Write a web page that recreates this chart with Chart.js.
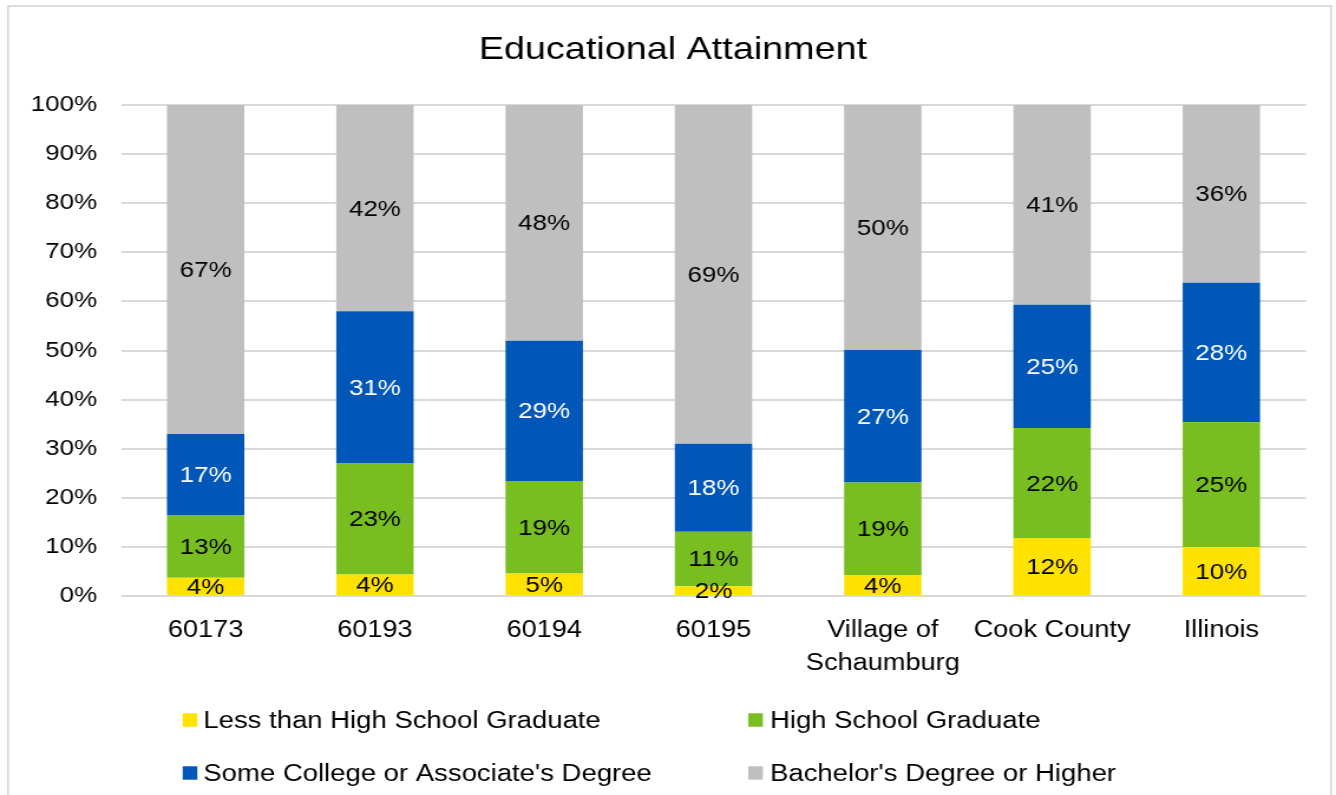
<!DOCTYPE html>
<html>
<head>
<meta charset="utf-8">
<title>Educational Attainment</title>
<script src="https://cdn.jsdelivr.net/npm/chart.js@4/dist/chart.umd.min.js"></script>
<style>
  html, body { margin: 0; padding: 0; background: #fff; overflow: hidden; }
  /* chart is laid out narrower and widened to the page width */
  #wrap {
    position: absolute; left: 0; top: 0;
    width: 1132px; height: 795px;
    transform: scaleX(1.1802); transform-origin: 0 0;
  }
</style>
</head>
<body>
<div id="wrap"><canvas id="attainment-chart"></canvas></div>
<script>
const categories = ["60173", "60193", "60194", "60195", ["Village of", "Schaumburg"], "Cook County", "Illinois"];

const lessThanHighSchool = [3.7, 4.4, 4.6, 2.0, 4.3, 11.8, 10.0];
const highSchoolGrad = [12.7, 22.6, 18.8, 11.1, 18.8, 22.4, 25.4];
const someCollege = [16.6, 31.0, 28.6, 17.9, 27.0, 25.1, 28.4];
const bachelorsOrHigher = [67.0, 42.0, 48.0, 69.0, 49.9, 40.7, 36.2];

const seriesNames = [
  "Less than High School Graduate",
  "High School Graduate",
  "Some College or Associate's Degree",
  "Bachelor's Degree or Higher",
];
const seriesColors = ["#FFE200", "#78BE21", "#0057B8", "#BEBFBE"];
const labelColors = ["#000", "#000", "#fff", "#000"];

const FONT = "'Liberation Sans', Arial, sans-serif";

// value labels in the middle of each segment
const segmentLabels = {
  id: "segmentLabels",
  afterDatasetsDraw(chart) {
    const ctx = chart.ctx;
    ctx.save();
    ctx.font = `22px ${FONT}`;
    ctx.textAlign = "center";
    ctx.textBaseline = "middle";
    chart.data.datasets.forEach((ds, i) => {
      chart.getDatasetMeta(i).data.forEach((bar, j) => {
        ctx.fillStyle = labelColors[i];
        ctx.fillText(Math.round(ds.data[j]) + "%", bar.x, (bar.y + bar.base) / 2 + 1.5);
      });
    });
    ctx.restore();
  },
};

// outer frame, title and the two-column legend under the axis
const frameAndLegend = {
  id: "frameAndLegend",
  beforeDraw(chart) {
    const ctx = chart.ctx;
    ctx.save();
    ctx.strokeStyle = "#D9D9D9";
    ctx.lineWidth = 1.8;
    ctx.strokeRect(6.8, 6, 1121, 800);
    ctx.fillStyle = "#000";
    ctx.font = `32px ${FONT}`;
    ctx.textAlign = "center";
    ctx.textBaseline = "middle";
    ctx.fillText("Educational Attainment", 570.2, 50);
    ctx.restore();
  },
  afterDraw(chart) {
    const ctx = chart.ctx;
    const boxX = [154.8, 634.0];
    const textX = [172.3, 652.4];
    const rowY = [720, 773];
    ctx.save();
    ctx.font = `23.3px ${FONT}`;
    ctx.textBaseline = "middle";
    ctx.textAlign = "left";
    chart.data.datasets.forEach((ds, i) => {
      const col = i % 2, row = Math.floor(i / 2);
      ctx.fillStyle = ds.backgroundColor;
      ctx.fillRect(boxX[col], rowY[row] - 6.7, 12.4, 13.4);
      ctx.fillStyle = "#000";
      ctx.fillText(ds.label, textX[col], rowY[row] + 1.5);
    });
    ctx.restore();
  },
};

const ctx = document.getElementById("attainment-chart");

new Chart(ctx, {
  type: "bar",
  data: {
    labels: categories,
    datasets: [lessThanHighSchool, highSchoolGrad, someCollege, bachelorsOrHigher].map((d, i) => ({
      label: seriesNames[i],
      data: d,
      backgroundColor: seriesColors[i],
      borderWidth: 0,
      categoryPercentage: 1,
      barPercentage: 0.457,
    })),
  },
  options: {
    responsive: true,
    maintainAspectRatio: false,
    animation: false,
    layout: { padding: { left: 0, right: 25.4, top: 105, bottom: 0 } },
    plugins: {
      legend: { display: false },
      tooltip: { enabled: false },
      title: { display: false },
    },
    scales: {
      x: {
        stacked: true,
        grid: { display: false },
        border: { display: false },
        ticks: {
          color: "#000",
          font: { family: FONT, size: 23, lineHeight: 1.43 },
          padding: 10.5,
          maxRotation: 0,
          autoSkip: false,
        },
        afterFit: (scale) => { scale.height = 199; },
      },
      y: {
        stacked: true,
        min: 0,
        max: 100,
        grid: { color: "#D9D9D9", lineWidth: 2, drawTicks: false },
        border: { display: false },
        ticks: {
          stepSize: 10,
          color: "#000",
          font: { family: FONT, size: 22 },
          padding: 20.3,
          callback: (v) => v + "%",
        },
        afterFit: (scale) => { scale.width = 102.5; },
      },
    },
  },
  plugins: [segmentLabels, frameAndLegend],
});
</script>
</body>
</html>
